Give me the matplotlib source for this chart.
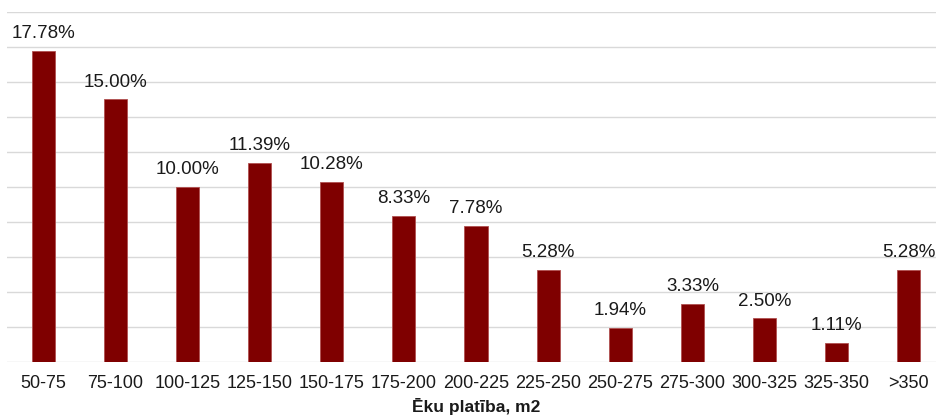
import matplotlib
matplotlib.use("Agg")
import matplotlib.pyplot as plt
import numpy as np

plt.rcParams['font.family'] = ['Liberation Sans', 'DejaVu Sans']

categories = ["50-75", "75-100", "100-125", "125-150", "150-175", "175-200",
              "200-225", "225-250", "250-275", "275-300", "300-325", "325-350", ">350"]
shares = [17.78, 15.00, 10.00, 11.39, 10.28, 8.33, 7.78, 5.28, 1.94, 3.33, 2.50, 1.11, 5.28]
x_title = "Ēku platība, m2"

fig = plt.figure(figsize=(9.36, 4.18), dpi=100)
ax = fig.add_axes([7 / 936, 56 / 418, 938 / 936, 350 / 418])

x = np.arange(len(categories))
ax.bar(x, shares, width=0.32, color="#7f0000", edgecolor="#b05050", linewidth=0.6, zorder=3)

for xi, v in zip(x, shares):
    ax.text(xi, v + 0.5, f"{v:.2f}%", ha="center", va="bottom", fontsize=13.5, color="#1a1a1a")

ax.set_xlim(-0.5, len(categories) - 0.5)
ax.set_ylim(0, 20)
ax.set_yticks(np.arange(0, 21, 2))
ax.yaxis.grid(True, color="#d9d9d9", linewidth=1.0, zorder=0)
ax.tick_params(axis="y", left=False, labelleft=False)
ax.tick_params(axis="x", length=0, pad=9, labelsize=13, colors="#1a1a1a")
ax.set_xticks(x)
ax.set_xticklabels(categories)
for s in ax.spines.values():
    s.set_visible(False)

ax.set_xlabel(x_title, fontsize=12.5, fontweight="bold", color="#1a1a1a", labelpad=5)

fig.savefig("out.png", dpi=100)
